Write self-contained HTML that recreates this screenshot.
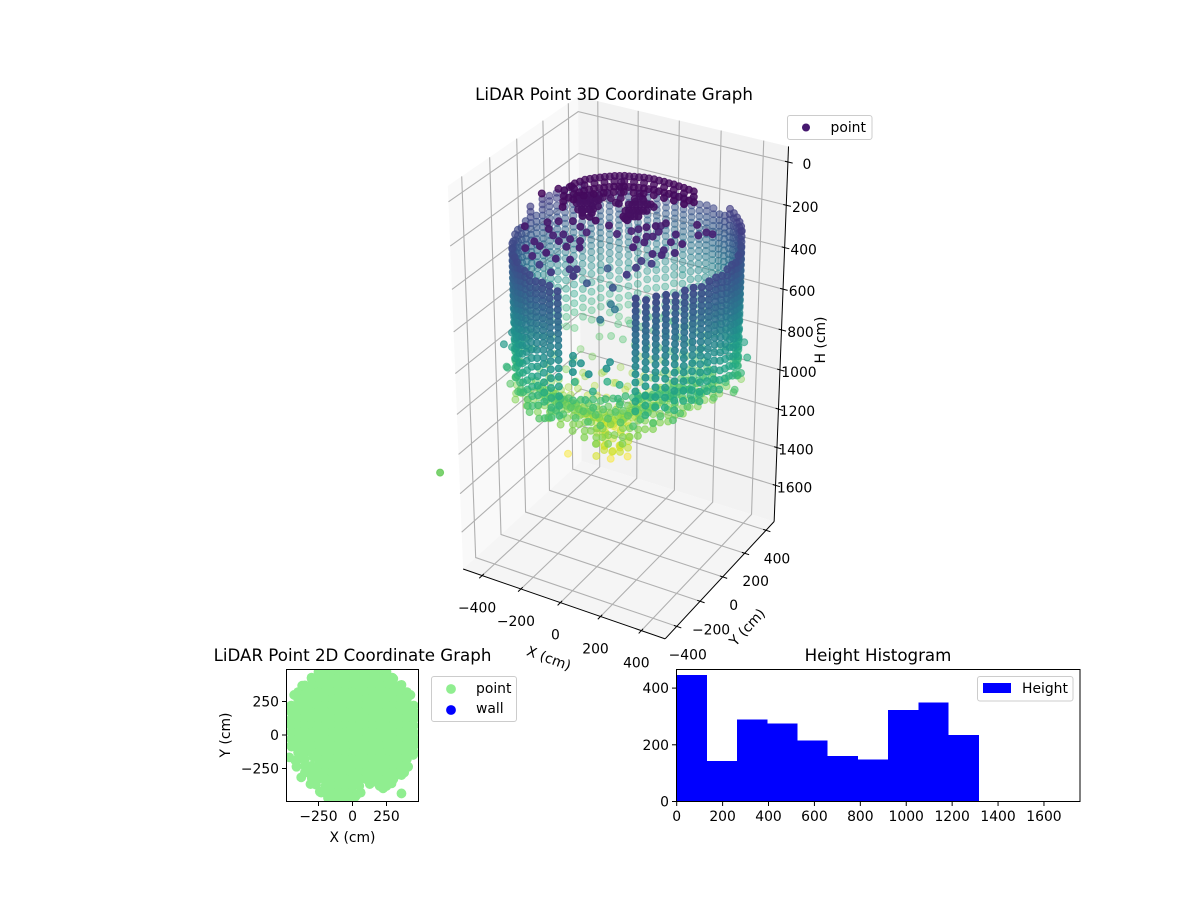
<!DOCTYPE html>
<html lang="en">
<head>
<meta charset="utf-8">
<title>LiDAR Point Graphs</title>
<style>
html,body{margin:0;padding:0;background:#fff;}
svg{display:block;font-family:"DejaVu Sans","Liberation Sans",sans-serif;fill:#000;}
text{font-size:13.9px;}
.ttl{font-size:16.67px;text-anchor:middle;}
</style>
</head>
<body>
<svg id="chart" xmlns="http://www.w3.org/2000/svg" width="1200" height="900" viewBox="0 0 1200 900">
<defs>
<clipPath id="clip2d"><rect x="286.5" y="669" width="132" height="132"/></clipPath>
</defs>
<g id="panes"></g>
<g id="grid3d"></g>
<g id="axes3d"></g>
<g id="points3d"></g>
<text class="ttl" x="614" y="100">LiDAR Point 3D Coordinate Graph</text>
<text x="549" y="663" text-anchor="middle" transform="rotate(20 549 658)">X (cm)</text>
<text x="747" y="632" text-anchor="middle" transform="rotate(-47 747 627)">Y (cm)</text>
<text x="820" y="345" text-anchor="middle" transform="rotate(-90 820 340)">H (cm)</text>
<g>
<rect x="787.5" y="115.5" width="84.5" height="24" rx="2.5" fill="#fff" fill-opacity="0.8" stroke="#ccc" stroke-width="1"/>
<circle cx="806" cy="127.5" r="4" fill="#46186f"/>
<text x="830.5" y="132">point</text>
</g>

<g id="plan">
<g id="plan-points" clip-path="url(#clip2d)"></g>
<rect x="286.5" y="669.5" width="132" height="132" fill="none" stroke="#000" stroke-width="1"/>
<g id="plan-axes"></g>
<text class="ttl" x="352.5" y="661">LiDAR Point 2D Coordinate Graph</text>
<text x="352.5" y="842" text-anchor="middle">X (cm)</text>
<text x="225" y="740" text-anchor="middle" transform="rotate(-90 225 735)">Y (cm)</text>
<g>
<rect x="431.5" y="676.5" width="85" height="45" rx="2.5" fill="#fff" stroke="#ccc" stroke-width="1"/>
<circle cx="451" cy="689" r="4.9" fill="#90ee90"/>
<text x="476" y="693">point</text>
<circle cx="451" cy="710" r="4.9" fill="#0000ff"/>
<text x="476" y="713">wall</text>
</g>
</g>

<g id="hist">
<g id="hist-bars" shape-rendering="crispEdges"></g>
<rect x="676.5" y="669.5" width="403.5" height="132" fill="none" stroke="#000" stroke-width="1"/>
<g id="hist-axes"></g>
<text class="ttl" x="878" y="661">Height Histogram</text>
<g>
<rect x="977.5" y="676.5" width="95.5" height="24.5" rx="2.5" fill="#fff" fill-opacity="0.8" stroke="#ccc" stroke-width="1"/>
<rect x="983" y="683" width="28" height="10" fill="#0000ff"/>
<text x="1022" y="693">Height</text>
</g>
</g>
</svg>
<script>
// ---------- 3D axis ticks ----------
const xTicks3d = [-400, -200, 0, 200, 400];
const yTicks3d = [-400, -200, 0, 200, 400];
const hTicks3d = [0, 200, 400, 600, 800, 1000, 1200, 1400, 1600];

// ---------- 3D data: wall scan columns (x, y) and the heights each column was sampled at ----------
const wallColumnX = [-16,-57,-97,-136,-174,-210,-245,-277,-307,-335,-360,-382,-401,-417,-429,-438,-443,-445,-443,-438,-429,-417,-401,-382,-360,-335,-307,-277,-245,-210,-174,-136,-97,-57,-16,25,66,107,147,186,224,260,295,327,357,385,410,432,451,467,479];
const wallColumnY = [478,473,464,452,436,417,395,370,342,312,280,245,209,171,132,92,51,10,-31,-72,-112,-151,-189,-225,-260,-292,-322,-350,-375,-397,-416,-432,-444,-453,-458,480,478,473,464,452,436,417,395,370,342,312,280,245,209,171,132];
const wallHeightsA = [285,313,342,369,396,423,450,477,505,534,565,598,634,673,715,762,810,856,904];
const wallHeightsB = [296,325,352,380,408,436,462,490,520,549,582,615,654,694,740,786,832,880];
const wallHeightsC = [285,313,342,369,396,423,450,477,505,534,565,598,634,664,706,752,800,845,925];
const shortColumnX = [295,327,357,385,410,432,451,467,479,488,493,495,493,488];
const shortColumnY = [-375,-350,-322,-292,-260,-225,-189,-151,-112,-72,-31,10,51,92];
const shortHeightsA = [285,313,342,369,396,423,450,477,505,534,565,598,634,673,715,762,810];
const shortHeightsB = [296,325,352,380,408,436,462,490,520,549,582,615,654,694,740,786,832];
const shortHeightsC = [285,313,342,369,396,423,450,477,505,534,565,598,634,664,706,752,800];
const upperColumnX = [432,410,385,357,327,295,-360,-382,-401,-417,-429,-438,-445];
const upperColumnY = [245,280,312,342,370,395,280,245,209,171,132,92,10];
const upperHeights = [235,260];

// ---------- 3D data: ceiling arcs and cluster ----------
const ceilingArc = [[-187,-131],[-184,-55],[-165,-7],[-139,27],[-108,55],[-77,82],[-42,102],[-4,115],[36,128],[79,135],[127,134],[173,133],[225,125],[275,117],
[-163,-173],[-160,-97],[-141,-49],[-115,-15],[-84,13],[-53,40],[-18,60],[20,73],[60,86],[103,93],[151,92],[197,91],[249,83],[299,75],
[-139,-215],[-136,-139],[-117,-91],[-91,-57],[-60,-29],[-29,-2],[6,18],[44,31],[84,44],[127,51],[175,50],[221,49],[273,41],[323,33],
[-252,-197],[-216,-129],[-183,-82],
[-185,-93],[-174,-31],[-152,10],[-123,41],[-92,68],[-59,92],[-23,108],[16,121],[57,131],[103,134],[150,133],[199,129],[250,121],
[-137,-177],[-126,-115],[-104,-74],[-75,-43],[-44,-15],[-11,8],[25,24],[64,37],[105,47],[151,50],[198,49],[247,45],[298,37],
[-115,-257],[-112,-181],[-93,-133],[-67,-99],[-36,-71],[-5,-44],[30,-24],[68,-11],[108,2],[151,9],[199,8],[245,7],[297,-1]];
const ceilingArcH = 35;
const ceilingCluster = [[-138,-112],[-113,-98],[-89,-84],[-61,-67],[-105,-168],[-80,-154],[-56,-140],[-41,-103],[-70,-213],[-46,-199],[-18,-183],[-24,-252],[4,-245],[42,-261],[-45,-30],[-7,-64],[32,-89],[-39,-73],[-45,82],[-20,40],[4,-2],[28,-44],[46,-90],[74,29],[81,-23],[109,-7],[85,-77],[110,-63],[138,-47],[162,-33],[102,-132],[127,-118],[151,-104],[176,-90],[184,-47],[120,-178],[144,-164],[172,-148],[150,-198],
[-125,-105],[-101,-91],[-75,-76],[-92,-161],[-68,-147],[-48,-122],[-58,-206],[-32,-191],[-5,-214],[-92,-133],[-70,-119],[-50,-100],[-120,-140],[-35,-160],[-15,-150],[-40,-230],
[95,-43],[97,-70],[124,-55],[150,-40],[114,-125],[139,-111],[164,-97],[132,-171],[158,-156],[135,-190],[90,3],[120,-20]];
const ceilingClusterH = 55;
const ceilingNear = [[-220,-374],[-159,-302],[-124,-347],[-125,-272],[-76,-244],[-24,-270],[70,-206],[236,-120],[208,-146],[259,-79],[375,-31]];
const ceilingNearH = 95;
const ceilingMid = [[-148,-417],[-148,-482],[-107,-440],[-55,-475],[-110,-338],[-64,-368],[-79,-311],[-34,-332],[-12,-394],[37,-375],[9,-326],[-7,-251],[106,-204],[144,-155],[160,-127],[225,-61],[242,-107],[242,-154],[221,-167],[238,-213],[198,-208],[220,-270],[314,-94],[329,-160],[376,-152],[411,-19],[396,-57],[440,-21]];
const ceilingMidH = 125;
const ceilingLow = [[-116,-482],[-23,-456],[30,-435],[313,-188],[326,-227],[290,-238],[363,-187]];
const ceilingLowH = 152;
const ceilingEdge = [[-123,-421],[2,-395],[27,-381],[44,-436],[-49,-452],[216,-198],[263,-198],[226,-257],[223,-324]];
const ceilingEdgeH = 222;
const ceilingBlue = [[23,-140],[14,-286],[125,-268]];
const ceilingBlueH = 335;

// ---------- 3D data: isolated returns as x, y, h ----------
const strayPoints = [[65,-268,500],[37,-138,500],[73,-166,500],
[-14,-352,650],[16,-403,650],[45,-386,650],[53,-460,650],[117,-443,650],[157,-371,650],[143,-321,650],
[-31,-314,800],[73,-341,800],[85,-247,800],[142,-244,800],
[138,-236,900],[183,-162,900],[56,-312,900],[-67,-403,900],
[-360,-339,700],[-393,-251,950],[-391,-278,850],[-309,-893,1000],
[-172,-152,1290],[9,-97,1290],[63,-46,1290],
[-335,-314,650],[-357,-220,750],[-365,-273,750],[-364,-224,850],[-383,-284,850],[-332,-264,950],[-260,-320,950],[-199,-401,950],[-137,-424,950],[-109,-398,950],
[495,154,850],[465,148,950],[464,234,750],[496,204,800],[436,131,900],[414,69,950],[426,-80,850],[369,-64,850],[335,-132,850]];

// ---------- 3D data: floor bowl, sampled on two offset grids (0 = no return) ----------
const floorXs = [-360,-300,-240,-180,-120,-60,0,60,120,180,240,300,360];
const floorYs = [360,300,240,180,120,60,0,-60,-120,-180,-240,-300,-360];
const floorHeights = [
[0,0,0,0,1055,1053,1039,1014,983,947,0,0,0],
[0,0,0,1096,1109,1106,1088,1060,1023,980,940,0,0],
[0,0,1112,1145,1163,1159,1135,1099,1054,1007,960,940,0],
[0,1096,1145,1188,1216,1210,1175,1129,1079,1028,976,940,940],
[0,1109,1163,1216,1265,1250,1198,1145,1091,1037,983,940,940],
[0,1106,1159,1210,1250,1239,1193,1141,1088,1035,982,940,940],
[1039,1088,1135,1175,1198,1193,1163,1120,1072,1022,971,940,940],
[0,1060,1099,1129,1145,1141,1120,1087,1045,998,946,940,940],
[0,1023,1054,1079,1091,1088,1072,1045,1010,968,940,940,940],
[0,980,1007,1028,1037,1035,1022,998,968,940,940,940,940],
[0,0,960,976,983,982,971,946,940,940,940,940,0],
[0,0,0,940,940,940,940,940,940,940,940,0,0],
[0,0,0,0,940,940,940,940,940,0,0,0,0]];
const floorXs2 = [-390,-330,-270,-210,-150,-90,-30,30,90,150,210,270,330,390];
const floorYs2 = [390,330,270,210,150,90,30,-30,-90,-150,-210,-270,-330];
const floorHeights2 = [
[0,0,0,0,0,860,850,850,860,870,0,0,0,0],
[0,0,0,900,880,880,880,880,880,890,900,0,0,0],
[0,0,950,930,930,940,930,920,920,920,930,950,0,0],
[0,1000,1020,1080,1120,1120,1080,1040,1000,970,950,940,930,0],
[0,1020,1090,1170,1240,1230,1160,1100,1040,1000,960,930,920,0],
[980,1040,1120,1190,1260,1260,1190,1120,1060,1000,960,920,900,900],
[1000,1060,1120,1170,1200,1210,1170,1110,1050,1000,950,920,900,890],
[990,1040,1090,1130,1150,1150,1130,1090,1040,990,940,900,880,880],
[0,1010,1050,1080,1090,1090,1070,1040,1000,950,910,880,860,860],
[0,970,1000,1020,1030,1030,1010,990,950,910,880,860,850,0],
[0,0,960,980,980,980,960,930,900,870,850,840,0,0],
[0,0,0,930,930,920,910,890,870,850,0,0,0,0],
[0,0,0,0,0,890,880,860,0,0,0,0,0,0]];

// ---------- 3D data: deepest part of the bowl ----------
const floorDeep = [[-135,34,1200],[-101,-24,1210],[-67,-82,1190],[-33,-140,1200],[0,-199,1220],
[-106,51,1190],[-72,-7,1230],[-38,-65,1200],[-4,-123,1210],[29,-182,1190],
[-77,68,1210],[-43,10,1190],[-9,-48,1220],[25,-106,1240],[58,-165,1200],
[-48,84,1200],[-14,26,1220],[20,-32,1190],[54,-90,1210],[87,-149,1200],
[-19,101,1180],[15,43,1200],[49,-15,1210],[83,-73,1190],[116,-132,1180],
[-88,20,1200],[-60,-30,1215],[-25,-85,1205],[10,-150,1195],[40,-75,1225],[70,-120,1200]];

// ---------- 3D data: bright rim where wall meets floor ----------
const rimLeft = [[-420,-169],[-351,-187],[-282,-206],[-213,-225],[-145,-244],[-75,-261],[-6,-280],[62,-299],[131,-318],
[-454,-111],[-385,-129],[-316,-148],[-247,-167],[-179,-186],[-109,-203],[-40,-222],[28,-241],[97,-260],
[-398,-156],[-329,-174],[-260,-193],[-191,-212],[-123,-231],[-53,-248],[16,-267],[84,-286],
[-363,-116],[-294,-135],[-225,-154],[-157,-173],[-87,-190],[-18,-209],[50,-228],[119,-247],
[-395,-213],[-326,-231],[-257,-250],[-188,-269],[-120,-288],[-50,-305],[19,-324],[87,-343],
[-419,-53],[-351,-71],[-282,-90],[-213,-109],[-145,-128],[-75,-145],[-6,-164],[62,-183]];
const rimRight = [[157,-244],[183,-162],[211,-86],[237,-4],[261,79],[287,161],[317,237],[341,319],[367,402],
[123,-186],[149,-104],[177,-28],[203,54],[227,137],[253,219],[283,295],[307,377],
[182,-229],[208,-147],[236,-71],[262,11],[286,94],[312,176],[342,252],
[148,-171],[174,-89],[202,-13],[228,69],[252,152],[278,234],[308,310],
[182,-288],[208,-206],[236,-130],[262,-48],[286,35],[312,117],[342,193],
[89,-128],[115,-46],[143,30],[169,112],[193,195],[219,277],[249,353]];
const rimH = 1050;

// ---------- 2D plan data ----------
const xTicks2d = [-250, 0, 250];
const yTicks2d = [-250, 0, 250];
const planGridXs = [-450,-400,-350,-300,-250,-200,-150,-100,-50,0,50,100,150,200,250,300,350,400,450];
const planGridYs = [470,420,370,320,270,220,170,120,70,20,-30,-80,-130,-180,-230,-280,-330,-380,-430];
const planMask = [
"....XXXXXXXXXXX....",
"...XXXXXXXXXXXXX...",
"..XXXXXXXXXXXXXXX..",
".XXXXXXXXXXXXXXXXX.",
".XXXXXXXXXXXXXXXXX.",
"XXXXXXXXXXXXXXXXXXX",
"XXXXXXXXXXXXXXXXXXX",
"XXXXXXXXXXXXXXXXXXX",
"XXXXXXXXXXXXXXXXXXX",
"XXXXXXXXXXXXXXXXXXX",
"XXXXXXXXXXXXXXXXXXX",
"XXXXXXXXXXXXXXXXXXX",
".XXXXXXXXXXXXXXXXXX",
".XX.XXXXXXXXXXXXXX.",
"..XXXXXXXXXXXXXXXX.",
"...XXXXXXXXXXXXXX..",
"....XXXXXXXXXXXX...",
".....XXXXXX..XX....",
"......XXXX........."];
const planEdgeX = [-301,-370,-429,-461,-473,-448,-465,-412,-377,-309,-240,-179,-93,29,127,225,287,360,360,409,446,470,470,426,360,292,-285,-180,-130,-80,-30,20,-230,60,-350,-300,-270,-200,-420,150,250,320,380];
const planEdgeY = [428,368,299,212,87,-87,-167,-237,-316,-366,-423,-461,-473,-448,-366,-398,-361,-436,-299,-237,-149,-37,162,299,374,428,-165,-470,-470,-470,-470,-460,-430,-430,-280,-320,-370,-420,-190,-350,-350,-300,-280];

// ---------- Histogram data ----------
const histEdges = [0,132,263,395,526,658,790,921,1053,1184,1316];
const histCounts = [446,142,290,276,216,160,149,322,350,234];
const histXTicks = [0,200,400,600,800,1000,1200,1400,1600];
const histYTicks = [0,200,400];

// ---------- Projection / scales ----------
const SVGNS = 'http://www.w3.org/2000/svg';
const xLim = [-499, 515], yLim = [-497, 478], hLim = [-71, 1795];
const BOX_H = 1.82, colorMax = 1300;
const viridis = ['#440154','#482475','#414487','#355f8d','#2a788e','#21918c','#22a884','#44bf70','#7ad151','#bddf26','#fde725'];

function project(x, y, h) {
  const qx = (x - (xLim[0] + xLim[1]) / 2) / (xLim[1] - xLim[0]);
  const qy = (y - (yLim[0] + yLim[1]) / 2) / (yLim[1] - yLim[0]);
  const qz = BOX_H * (0.5 - (h - hLim[0]) / (hLim[1] - hLim[0]));
  const xc = 0.866 * qx + 0.5 * qy;
  const yc = -0.25 * qx + 0.433 * qy + 0.866 * qz;
  const near = 0.433 * qx - 0.75 * qy + 0.5 * qz;
  const d = 10 - near;
  return { x: 621 + 2380 * xc / d, y: 364 - 2400 * yc / d, near: near };
}
function hexToRgb(s) { return [parseInt(s.substr(1,2),16), parseInt(s.substr(3,2),16), parseInt(s.substr(5,2),16)]; }
function colorFor(h) {
  const t = Math.max(0, Math.min(1, h / colorMax)) * (viridis.length - 1);
  const i = Math.min(viridis.length - 2, Math.floor(t));
  const f = t - i, a = hexToRgb(viridis[i]), b = hexToRgb(viridis[i + 1]);
  return 'rgb(' + Math.round(a[0] + (b[0] - a[0]) * f) + ',' + Math.round(a[1] + (b[1] - a[1]) * f) + ',' + Math.round(a[2] + (b[2] - a[2]) * f) + ')';
}
function el(tag, parent) {
  const e = document.createElementNS(SVGNS, tag);
  parent.appendChild(e);
  return e;
}
function line(parent, a, b, stroke, w) {
  const l = el('line', parent);
  l.setAttribute('x1', a.x); l.setAttribute('y1', a.y);
  l.setAttribute('x2', b.x); l.setAttribute('y2', b.y);
  l.setAttribute('stroke', stroke); l.setAttribute('stroke-width', w);
  return l;
}
function label(parent, x, y, txt, anchor) {
  const t = el('text', parent);
  t.setAttribute('x', x); t.setAttribute('y', y);
  t.setAttribute('text-anchor', anchor);
  t.textContent = txt;
  return t;
}
function fmt(v) { return v < 0 ? '\u2212' + (-v) : String(v); }

// ---------- Panes ----------
const paneGroup = document.getElementById('panes');
const x0 = xLim[0], x1 = xLim[1], y0 = yLim[0], y1 = yLim[1], zT = hLim[0], zB = hLim[1];
function pane(corners, fill, name) {
  const p = el('polygon', paneGroup);
  p.setAttribute('points', corners.map(function (c) { const s = project(c[0], c[1], c[2]); return s.x + ',' + s.y; }).join(' '));
  p.setAttribute('fill', fill);
  
  
}
pane([[x0,y0,zT],[x0,y1,zT],[x0,y1,zB],[x0,y0,zB]], '#f9f9f9', 'left-pane');
pane([[x0,y1,zT],[x1,y1,zT],[x1,y1,zB],[x0,y1,zB]], '#f2f2f2', 'back-pane');
pane([[x0,y0,zB],[x1,y0,zB],[x1,y1,zB],[x0,y1,zB]], '#f5f5f5', 'floor-pane');

// ---------- 3D gridlines ----------
const gridGroup = document.getElementById('grid3d');
const GRID = '#b0b0b0';
xTicks3d.forEach(function (v) {
  const g = el('polyline', gridGroup);
  g.setAttribute('points', [[v,y0,zB],[v,y1,zB],[v,y1,zT]].map(function (c) { const s = project(c[0],c[1],c[2]); return s.x + ',' + s.y; }).join(' '));
  g.setAttribute('fill', 'none'); g.setAttribute('stroke', GRID); g.setAttribute('stroke-width', '1.1');
  
  
});
yTicks3d.forEach(function (v) {
  const g = el('polyline', gridGroup);
  g.setAttribute('points', [[x1,v,zB],[x0,v,zB],[x0,v,zT]].map(function (c) { const s = project(c[0],c[1],c[2]); return s.x + ',' + s.y; }).join(' '));
  g.setAttribute('fill', 'none'); g.setAttribute('stroke', GRID); g.setAttribute('stroke-width', '1.1');
  
  
});
hTicks3d.forEach(function (v) {
  const g = el('polyline', gridGroup);
  g.setAttribute('points', [[x0,y0,v],[x0,y1,v],[x1,y1,v]].map(function (c) { const s = project(c[0],c[1],c[2]); return s.x + ',' + s.y; }).join(' '));
  g.setAttribute('fill', 'none'); g.setAttribute('stroke', GRID); g.setAttribute('stroke-width', '1.1');
  
  
});

// ---------- 3D axes, ticks, tick labels ----------
const axesGroup = document.getElementById('axes3d');
const xAxisLine = line(axesGroup, project(x0,y0,zB), project(x1,y0,zB), '#000', 1);


const yAxisLine = line(axesGroup, project(x1,y0,zB), project(x1,y1,zB), '#000', 1);


const hAxisLine = line(axesGroup, project(x1,y1,zB), project(x1,y1,zT), '#000', 1);


xTicks3d.forEach(function (v) {
  const a = project(v, y0 - 22, zB), b = project(v, y0 + 14, zB);
  const t = line(axesGroup, a, b, '#000', 1);
  
  
  const s = project(v, y0, zB);
  const l = label(axesGroup, s.x - 5, s.y + 37, fmt(v), 'middle');
  
  
});
yTicks3d.forEach(function (v) {
  const a = project(x1 + 22, v, zB), b = project(x1 - 14, v, zB);
  const t = line(axesGroup, a, b, '#000', 1);
  
  
  const s = project(x1, v, zB);
  const l = label(axesGroup, s.x + 11, s.y + 33, fmt(v), 'middle');
  
  
});
hTicks3d.forEach(function (v) {
  const a = project(x1 + 22, y1, v), b = project(x1 - 14, y1, v);
  const t = line(axesGroup, a, b, '#000', 1);
  
  
  const s = project(x1, y1, v);
  const l = label(axesGroup, s.x + 19, s.y + 7, fmt(v), 'middle');
  
  
});

// ---------- 3D point cloud ----------
const cloud = [];
const wallRows = [wallHeightsA, wallHeightsB, wallHeightsC];
const shortRows = [shortHeightsA, shortHeightsB, shortHeightsC];
wallColumnX.forEach(function (x, i) { wallRows[i % 3].forEach(function (h) { cloud.push([x, wallColumnY[i], h]); }); });
shortColumnX.forEach(function (x, i) { shortRows[i % 3].forEach(function (h) { cloud.push([x, shortColumnY[i], h]); }); });
upperColumnX.forEach(function (x, i) { upperHeights.forEach(function (h) { cloud.push([x, upperColumnY[i], h]); }); });
ceilingArc.forEach(function (p) { cloud.push([p[0], p[1], ceilingArcH]); });
ceilingCluster.forEach(function (p) { cloud.push([p[0], p[1], ceilingClusterH]); });
ceilingNear.forEach(function (p) { cloud.push([p[0], p[1], ceilingNearH]); });
ceilingMid.forEach(function (p) { cloud.push([p[0], p[1], ceilingMidH]); });
ceilingLow.forEach(function (p) { cloud.push([p[0], p[1], ceilingLowH]); });
ceilingEdge.forEach(function (p) { cloud.push([p[0], p[1], ceilingEdgeH]); });
ceilingBlue.forEach(function (p) { cloud.push([p[0], p[1], ceilingBlueH]); });
strayPoints.forEach(function (p) { cloud.push(p); });
floorHeights.forEach(function (row, r) { row.forEach(function (h, c) { if (h > 0) cloud.push([floorXs[c], floorYs[r], h]); }); });
floorHeights2.forEach(function (row, r) { row.forEach(function (h, c) { if (h > 0) cloud.push([floorXs2[c], floorYs2[r], h]); }); });
floorDeep.forEach(function (p) { cloud.push(p); });
rimLeft.forEach(function (p) { cloud.push([p[0], p[1], rimH]); });
rimRight.forEach(function (p) { cloud.push([p[0], p[1], rimH]); });

const projected = cloud.map(function (p) { const s = project(p[0], p[1], p[2]); return { s: s, h: p[2] }; });
let nearMin = Infinity, nearMax = -Infinity;
projected.forEach(function (p) { nearMin = Math.min(nearMin, p.s.near); nearMax = Math.max(nearMax, p.s.near); });
projected.sort(function (a, b) { return a.s.near - b.s.near; });
const pointsGroup = document.getElementById('points3d');
projected.forEach(function (p) {
  const alpha = 0.3 + 0.7 * (p.s.near - nearMin) / (nearMax - nearMin);
  const c = el('circle', pointsGroup);
  c.setAttribute('cx', p.s.x.toFixed(1));
  c.setAttribute('cy', p.s.y.toFixed(1));
  c.setAttribute('r', '3.5');
  c.setAttribute('fill', colorFor(p.h));
  c.setAttribute('stroke', colorFor(p.h));
  c.setAttribute('stroke-width', '1');
  c.setAttribute('fill-opacity', alpha.toFixed(2));
  c.setAttribute('stroke-opacity', alpha.toFixed(2));
  
  
});

// ---------- 2D plot ----------
function planX(v) { return 352.5 + 0.136 * v; }
function planY(v) { return 735 - 0.134 * v; }
const planGroup = document.getElementById('plan-points');
planMask.forEach(function (row, r) {
  planGridXs.forEach(function (x, c) {
    if (row.charAt(c) !== 'X') return;
    const d = el('circle', planGroup);
    d.setAttribute('cx', planX(x));
    d.setAttribute('cy', planY(planGridYs[r]));
    d.setAttribute('r', '4.9');
    d.setAttribute('fill', '#90ee90');
    
    
  });
});
planEdgeX.forEach(function (x, i) {
  const d = el('circle', planGroup);
  d.setAttribute('cx', planX(x));
  d.setAttribute('cy', planY(planEdgeY[i]));
  d.setAttribute('r', '4.9');
  d.setAttribute('fill', '#90ee90');
  
  
});
const planAxes = document.getElementById('plan-axes');
xTicks2d.forEach(function (v) {
  const x = planX(v);
  const t = line(planAxes, { x: x, y: 801.5 }, { x: x, y: 806 }, '#000', 1);
  
  
  const l = label(planAxes, x, 821, fmt(v), 'middle');
  
  
});
yTicks2d.forEach(function (v) {
  const y = planY(v);
  const t = line(planAxes, { x: 282, y: y }, { x: 286.5, y: y }, '#000', 1);
  
  
  const l = label(planAxes, 279, y + 5, fmt(v), 'end');
  
  
});

// ---------- Histogram ----------
function histX(v) { return 676.7 + (1080 - 676.7) * v / 1757; }
function histY(v) { return 801.5 - 0.2835 * v; }
const barGroup = document.getElementById('hist-bars');
histCounts.forEach(function (n, i) {
  const b = el('rect', barGroup);
  b.setAttribute('x', histX(histEdges[i]));
  b.setAttribute('y', histY(n));
  b.setAttribute('width', histX(histEdges[i + 1]) - histX(histEdges[i]));
  b.setAttribute('height', histY(0) - histY(n));
  b.setAttribute('fill', '#0000ff');
  
  
});
const histAxes = document.getElementById('hist-axes');
histXTicks.forEach(function (v) {
  const x = histX(v);
  const t = line(histAxes, { x: x, y: 801.5 }, { x: x, y: 806 }, '#000', 1);
  
  
  const l = label(histAxes, x, 821, fmt(v), 'middle');
  
  
});
histYTicks.forEach(function (v) {
  const y = histY(v);
  const t = line(histAxes, { x: 672, y: y }, { x: 676.5, y: y }, '#000', 1);
  
  
  const l = label(histAxes, 669, y + 5, fmt(v), 'end');
  
  
});
</script>
</body>
</html>
